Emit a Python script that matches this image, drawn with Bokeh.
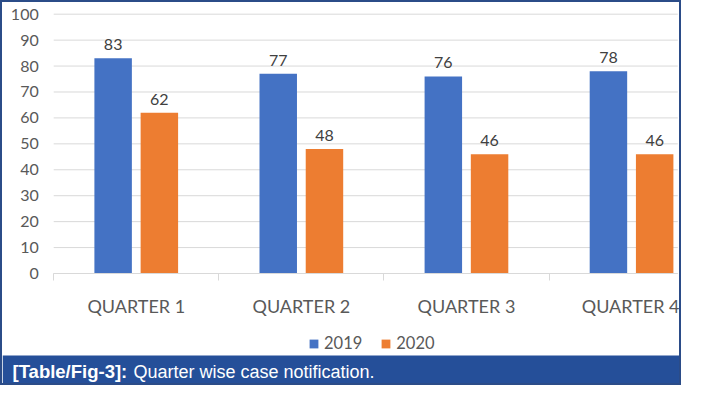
import numpy as np
from bokeh.plotting import figure
from bokeh.models import (Range1d, FixedTicker, Legend, LegendItem, Label, BoxAnnotation,
                          ColumnDataSource, CustomJSTickFormatter)
from bokeh.embed import file_html
from bokeh.resources import INLINE
from bokeh.core.properties import value

quarters = ["QUARTER 1", "QUARTER 2", "QUARTER 3", "QUARTER 4"]
cases_2019 = [83, 77, 76, 78]
cases_2020 = [62, 48, 46, 46]
series_names = ["2019", "2020"]
y_ticks = list(range(0, 101, 10))
caption_bold = "[Table/Fig-3]:"
caption_text = "Quarter wise case notification."

C2019 = "#4472C4"
C2020 = "#ED7D31"
GRID = "#D9D9D9"
TXT = "#595959"
BANNER = "#254F99"
FONT = "Lato"

W, H = 681, 385            # inner size (2px CSS border around)
PX_CAT = 165.1             # pixels per category
X0_PX = 51.2               # pixel of category boundary 0
Y0_PX = 271.0              # pixel (from top) of value 0
PX_UNIT = 2.593            # pixels per value unit
BANNER_TOP_PX = 353.0      # pixel (from top) of the caption banner top
VIS_END = 3.78             # visible end of the category axis

x_start = -X0_PX / PX_CAT
x_end = (W - X0_PX) / PX_CAT
y_end = Y0_PX / PX_UNIT
y_start = -(H - Y0_PX) / PX_UNIT
banner_top = -(BANNER_TOP_PX - Y0_PX) / PX_UNIT

BAR_W = 0.227
OFF = 0.14

idx = np.arange(len(quarters)) + 0.5
src19 = ColumnDataSource(dict(x=idx - OFF, y=cases_2019, t=[str(v) for v in cases_2019]))
src20 = ColumnDataSource(dict(x=idx + OFF, y=cases_2020, t=[str(v) for v in cases_2020]))
grid_src = ColumnDataSource(dict(x0=[0] * len(y_ticks), x1=[VIS_END] * len(y_ticks),
                                 y=y_ticks))

p = figure(width=W, height=H, output_backend="svg", toolbar_location=None,
           x_range=Range1d(x_start, x_end), y_range=Range1d(y_start, y_end),
           min_border=0, title=None)
p.outline_line_color = None
p.background_fill_color = "white"
p.border_fill_color = "white"
p.xgrid.visible = False
p.ygrid.visible = False
p.styles = {"border": "2px solid #2B4C88"}

# gridlines
p.segment(x0="x0", x1="x1", y0="y", y1="y", source=grid_src, line_color=GRID, line_width=1)

r19 = p.vbar(x="x", top="y", width=BAR_W, source=src19, fill_color=C2019, line_color=None)
r20 = p.vbar(x="x", top="y", width=BAR_W, source=src20, fill_color=C2020, line_color=None)

for s in (src19, src20):
    p.text(x="x", y="y", text="t", source=s, text_align="center", text_baseline="bottom",
           y_offset=-8, text_font=value(FONT), text_font_size="16px", text_color="#404040")

# y axis
ya = p.yaxis[0]
ya.fixed_location = 0
ya.bounds = (0, 100)
ya.ticker = FixedTicker(ticks=y_ticks)
ya.axis_line_color = None
ya.major_tick_line_color = None
ya.minor_tick_line_color = None
ya.major_tick_out = 0
ya.major_tick_in = 0
ya.major_label_standoff = 15
ya.major_label_text_font = FONT
ya.major_label_text_font_size = "16px"
ya.major_label_text_color = TXT

# x axis
xa = p.xaxis[0]
xa.fixed_location = 0
xa.bounds = (0, VIS_END)
xa.ticker = FixedTicker(ticks=list(idx), minor_ticks=list(range(len(quarters) + 1)))
xa.formatter = CustomJSTickFormatter(args=dict(labels=quarters),
                                     code="return labels[Math.floor(tick)];")
xa.axis_line_color = GRID
xa.major_tick_line_color = None
xa.major_tick_out = 7
xa.major_tick_in = 0
xa.minor_tick_line_color = GRID
xa.minor_tick_out = 7
xa.minor_tick_in = 0
xa.major_label_standoff = 14
xa.major_label_text_font = FONT
xa.major_label_text_font_size = "18px"
xa.major_label_text_color = TXT

legend = Legend(items=[LegendItem(label=series_names[0], renderers=[r19]),
                       LegendItem(label=series_names[1], renderers=[r20])],
                orientation="horizontal", location=(306, 34),
                glyph_width=11, glyph_height=11, label_standoff=5, spacing=18,
                padding=0, margin=0, border_line_color=None, background_fill_alpha=0,
                label_text_font=FONT, label_text_font_size="16.5px",
                label_text_color=TXT)
p.add_layout(legend, "center")

# caption banner
p.add_layout(BoxAnnotation(left=x_start, right=x_end, bottom=y_start, top=banner_top,
                           fill_color=BANNER, fill_alpha=1, line_color=None, level="overlay"))
p.add_layout(Label(x=10, y=16, x_units="screen", y_units="screen", text=caption_bold,
                   text_baseline="middle", text_font="Liberation Sans",
                   text_font_style="bold", text_font_size="18.5px", text_color="white",
                   level="overlay"))
p.add_layout(Label(x=131, y=16, x_units="screen", y_units="screen", text=caption_text,
                   text_baseline="middle", text_font="Liberation Sans",
                   text_font_size="18px", text_color="white", level="overlay"))

open("out.html", "w").write(file_html(p, INLINE))
